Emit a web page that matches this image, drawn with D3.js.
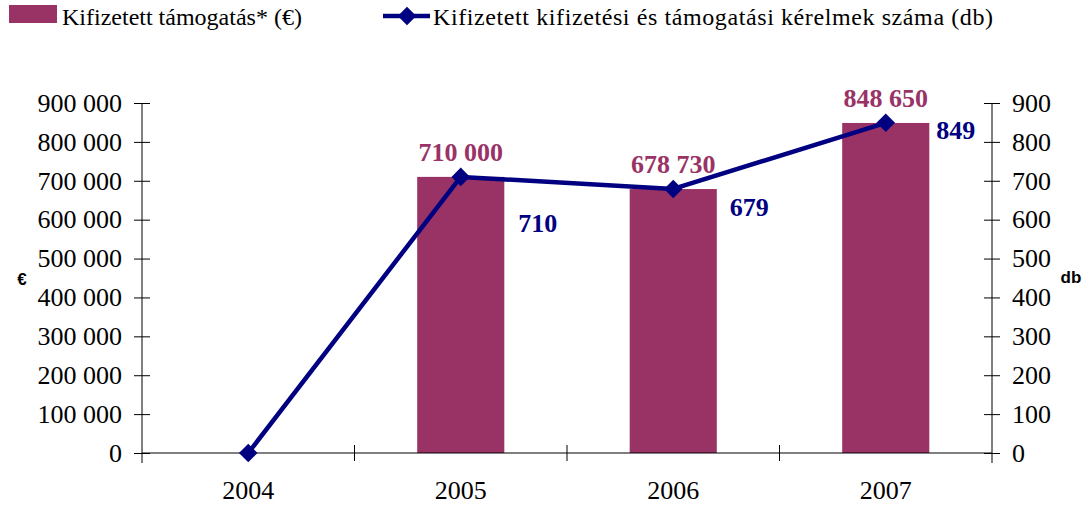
<!DOCTYPE html>
<html>
<head>
<meta charset="utf-8">
<script src="https://cdn.jsdelivr.net/npm/d3@7"></script>
<style>
  body { margin: 0; background: #fff; }
  svg { display: block; }
</style>
</head>
<body>
<svg id="chart" width="1088" height="506"></svg>
<script>
// data
const years = ["2004", "2005", "2006", "2007"];
const paidSupport = [0, 710000, 678730, 848650];      // €
const applications = [0, 710, 679, 849];              // db
const leftTicks = [0, 100000, 200000, 300000, 400000, 500000, 600000, 700000, 800000, 900000];
const rightTicks = [0, 100, 200, 300, 400, 500, 600, 700, 800, 900];
const barLegend = "Kifizetett támogatás* (€)";
const lineLegend = "Kifizetett kifizetési és támogatási kérelmek száma (db)";

const barColor = "#993366";
const lineColor = "#000080";
const serif = "'Liberation Serif', 'Times New Roman', serif";

const svg = d3.select("#chart");
const plot = { left: 142, right: 992, top: 103, bottom: 453 };

const x = d3.scaleBand().domain(years).range([plot.left, plot.right]).paddingInner(0.59).paddingOuter(0.295);
const xc = d3.scaleBand().domain(years).range([plot.left, plot.right]);
const yL = d3.scaleLinear().domain([0, 900000]).range([plot.bottom, plot.top]);
const yR = d3.scaleLinear().domain([0, 900]).range([plot.bottom, plot.top]);

const fmt = v => d3.format(",")(v).replace(/,/g, " ");

// bars
svg.append("g").selectAll("rect")
  .data(years)
  .join("rect")
  .attr("x", d => x(d))
  .attr("width", x.bandwidth())
  .attr("y", (d, i) => yL(paidSupport[i]))
  .attr("height", (d, i) => plot.bottom - yL(paidSupport[i]))
  .style("fill", barColor);

// axes
const leftAxis = svg.append("g")
  .attr("transform", `translate(${plot.left},0)`)
  .call(d3.axisLeft(yL).tickValues(leftTicks).tickFormat(fmt).tickSize(8).tickPadding(12));
const rightAxis = svg.append("g")
  .attr("transform", `translate(${plot.right},0)`)
  .call(d3.axisRight(yR).tickValues(rightTicks).tickFormat(d3.format("d")).tickSize(8).tickPadding(12));
[leftAxis, rightAxis].forEach(g => {
  g.select(".domain").attr("d", `M0,${plot.bottom + 10}V${plot.top}`).style("stroke", "#000");
  g.selectAll(".tick line").attr("x1", -8).attr("x2", 8).style("stroke", "#000");
  g.selectAll("text").style("font-family", serif).style("font-size", "26px").style("fill", "#000");
});

// category axis
const xAxis = svg.append("g");
xAxis.append("line")
  .attr("x1", plot.left).attr("x2", plot.right)
  .attr("y1", plot.bottom).attr("y2", plot.bottom)
  .style("stroke", "#000");
xAxis.selectAll("line.ct")
  .data(years.slice(1))
  .join("line")
  .attr("class", "ct")
  .attr("x1", d => xc(d)).attr("x2", d => xc(d))
  .attr("y1", plot.bottom - 8).attr("y2", plot.bottom + 8)
  .style("stroke", "#000");
xAxis.selectAll("text")
  .data(years)
  .join("text")
  .attr("x", d => xc(d) + xc.bandwidth() / 2)
  .attr("y", plot.bottom + 46)
  .attr("text-anchor", "middle")
  .style("font-family", serif).style("font-size", "26px")
  .text(d => d);

// line series
const pts = years.map((d, i) => [xc(d) + xc.bandwidth() / 2, yR(applications[i])]);
svg.append("path")
  .attr("d", d3.line()(pts))
  .style("fill", "none")
  .style("stroke", lineColor)
  .style("stroke-width", 4.5)
  .style("stroke-linejoin", "round");
const diamond = d3.symbol().type(d3.symbolDiamond2).size(220);
svg.append("g").selectAll("path")
  .data(pts)
  .join("path")
  .attr("transform", d => `translate(${d[0]},${d[1]})`)
  .attr("d", diamond)
  .style("fill", lineColor);

// bar labels
svg.append("g").selectAll("text")
  .data(years.slice(1))
  .join("text")
  .attr("x", d => x(d) + x.bandwidth() / 2)
  .attr("y", d => yL(paidSupport[years.indexOf(d)]) - 16)
  .attr("text-anchor", "middle")
  .style("font-family", serif).style("font-size", "26px").style("font-weight", "bold")
  .style("fill", barColor)
  .text(d => fmt(paidSupport[years.indexOf(d)]));

// line labels (manual offsets as in the original)
const lineLabelOffset = [null, [77, 55], [76, 27], [70, 16]];
svg.append("g").selectAll("text")
  .data(years.slice(1))
  .join("text")
  .attr("x", d => pts[years.indexOf(d)][0] + lineLabelOffset[years.indexOf(d)][0])
  .attr("y", d => pts[years.indexOf(d)][1] + lineLabelOffset[years.indexOf(d)][1])
  .attr("text-anchor", "middle")
  .style("font-family", serif).style("font-size", "26px").style("font-weight", "bold")
  .style("fill", lineColor)
  .text(d => applications[years.indexOf(d)]);

// axis titles
svg.append("text").attr("x", 22).attr("y", 285).attr("text-anchor", "middle")
  .style("font-family", "'Liberation Sans', Arial, sans-serif").style("font-size", "17px").style("font-weight", "bold")
  .text("€");
svg.append("text").attr("x", 1071).attr("y", 283).attr("text-anchor", "middle")
  .style("font-family", "'Liberation Sans', Arial, sans-serif").style("font-size", "17px").style("font-weight", "bold")
  .text("db");

// legend
const legend = svg.append("g");
legend.append("rect").attr("x", 9).attr("y", 5).attr("width", 48).attr("height", 18).style("fill", barColor);
legend.append("text").attr("x", 62).attr("y", 25)
  .style("font-family", serif).style("font-size", "24px").text(barLegend);
legend.append("line").attr("x1", 383).attr("x2", 430).attr("y1", 16).attr("y2", 16)
  .style("stroke", lineColor).style("stroke-width", 4.5);
legend.append("path").attr("transform", "translate(407,16)").attr("d", diamond).style("fill", lineColor);
legend.append("text").attr("x", 433).attr("y", 25)
  .attr("textLength", 560).attr("lengthAdjust", "spacing")
  .style("font-family", serif).style("font-size", "24px").text(lineLegend);
</script>
</body>
</html>
